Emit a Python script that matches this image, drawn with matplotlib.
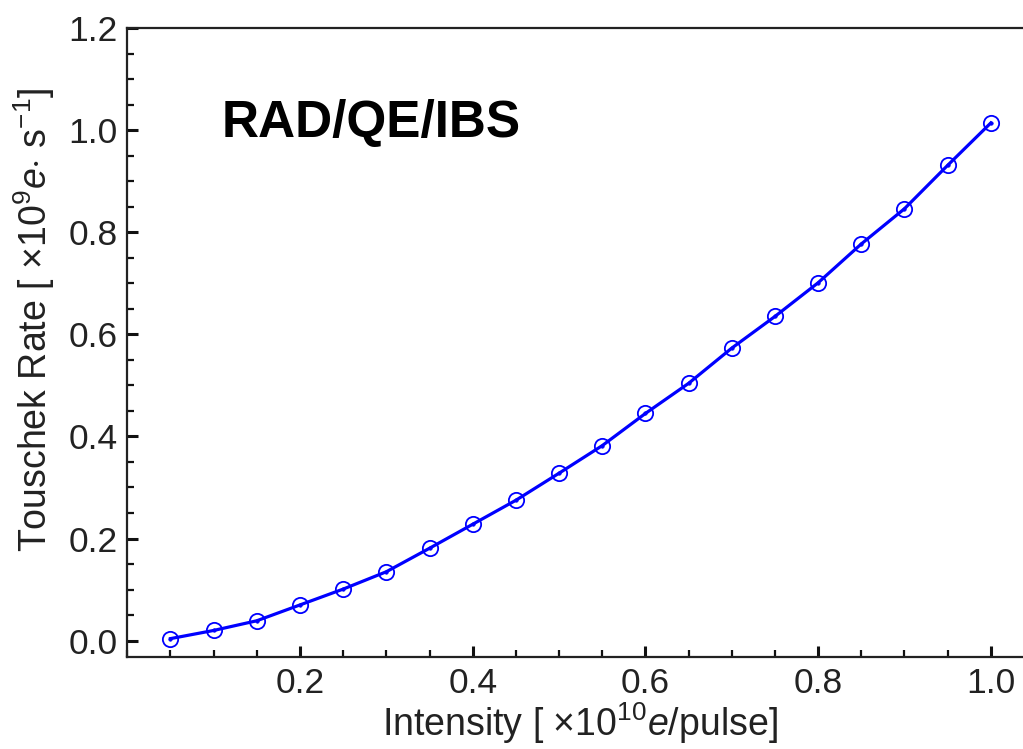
import matplotlib
matplotlib.use("Agg")
import matplotlib.pyplot as plt
from matplotlib.ticker import MultipleLocator

# Touschek rate versus bunch intensity
intensity = [0.05, 0.10, 0.15, 0.20, 0.25, 0.30, 0.35, 0.40, 0.45, 0.50,
             0.55, 0.60, 0.65, 0.70, 0.75, 0.80, 0.85, 0.90, 0.95, 1.00]
touschek_rate = [0.004, 0.020, 0.039, 0.070, 0.101, 0.135, 0.181, 0.228, 0.275, 0.328,
                 0.382, 0.445, 0.504, 0.573, 0.635, 0.701, 0.777, 0.846, 0.931, 1.014]

panel_label = "RAD/QE/IBS"
x_label = r"Intensity [ $\times$10$^{10}$$\mathit{e}$/pulse]"
y_label = r"Touschek Rate [ $\times$10$^{9}$$\mathit{e}$$\cdot$ s$^{-1}$]"

plt.rcParams["font.family"] = ["Liberation Sans", "DejaVu Sans"]
plt.rcParams["mathtext.fontset"] = "custom"
plt.rcParams["mathtext.rm"] = "Liberation Sans"
plt.rcParams["mathtext.it"] = "Liberation Sans:italic"
plt.rcParams["mathtext.bf"] = "Liberation Sans:bold"

W, H = 1023, 749
fig = plt.figure(figsize=(W / 100, H / 100), dpi=100)

left_px, right_px, top_px, bottom_px = 127.3, 1023, 28, 657
ax = fig.add_axes([left_px / W, 1 - bottom_px / H,
                   (right_px - left_px) / W, (bottom_px - top_px) / H])

blue = "#0000ff"
ax.plot(intensity, touschek_rate, color=blue, lw=2.3, zorder=2)
ax.plot(intensity, touschek_rate, ls="none", marker="o", ms=11, mfc="none",
        mec=blue, mew=1.3, zorder=3)
ax.plot(intensity, touschek_rate, ls="none", marker="o", ms=2.5, mfc=blue,
        mec=blue, mew=0.5, zorder=3)

ax.set_xlim(0, (right_px - left_px) / 863.5)
ax.set_ylim(-0.032, 1.2)

ax.xaxis.set_minor_locator(MultipleLocator(0.05))
ax.yaxis.set_minor_locator(MultipleLocator(0.05))
ax.set_xticks([0.2, 0.4, 0.6, 0.8, 1.0])
ax.set_xticklabels(["0.2", "0.4", "0.6", "0.8", "1.0"])
ax.set_yticks([0.0, 0.2, 0.4, 0.6, 0.8, 1.0, 1.2])
ax.set_yticklabels(["0.0", "0.2", "0.4", "0.6", "0.8", "1.0", "1.2"])

ax.tick_params(which="both", direction="in", top=False, right=False,
               colors="#111111", labelcolor="#222222")
ax.tick_params(which="major", length=8, width=2.2, labelsize=25.5, pad=7)
ax.tick_params(which="minor", length=5, width=1.6)

ax.spines["right"].set_visible(False)
for side in ("left", "top", "bottom"):
    ax.spines[side].set_linewidth(1.6)
    ax.spines[side].set_color("#222222")

fig.text(580 / W, 1 - 700 / H, x_label, ha="center", va="top",
         fontsize=27, color="#222222")
fig.text(34 / W, 1 - 320 / H, y_label, ha="center", va="center",
         rotation=90, fontsize=27, color="#222222")

fig.text(222 / W, 1 - 137 / H, panel_label, ha="left", va="baseline",
         fontsize=37, fontweight="bold", color="black")

fig.savefig("out.png", dpi=100)
